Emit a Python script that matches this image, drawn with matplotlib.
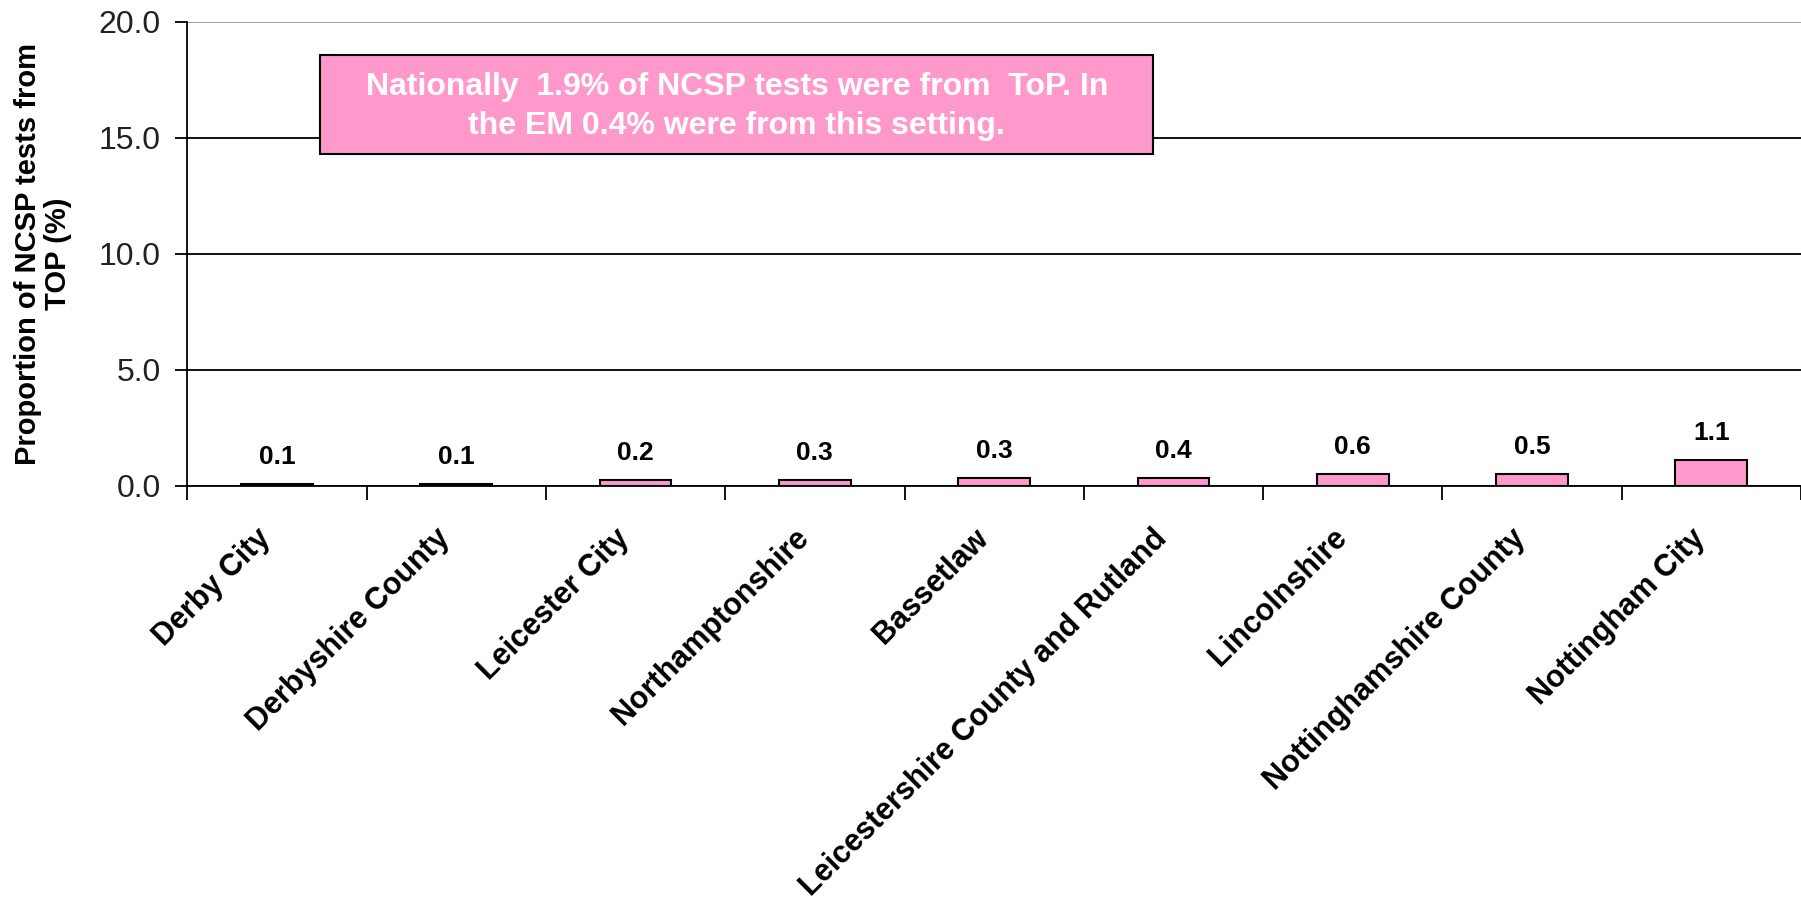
import numpy as np
import matplotlib.pyplot as plt
from matplotlib.patches import Rectangle

# Data
areas = ['Derby City', 'Derbyshire County', 'Leicester City', 'Northamptonshire',
         'Bassetlaw', 'Leicestershire County and Rutland', 'Lincolnshire',
         'Nottinghamshire County', 'Nottingham City']
pct_top = [0.08, 0.08, 0.26, 0.26, 0.35, 0.35, 0.52, 0.52, 1.12]
value_labels = ['0.1', '0.1', '0.2', '0.3', '0.3', '0.4', '0.6', '0.5', '1.1']
note = 'Nationally  1.9% of NCSP tests were from  ToP. In\nthe EM 0.4% were from this setting.'

plt.rcParams['font.family'] = ['Liberation Sans', 'DejaVu Sans']

fig = plt.figure(figsize=(18.01, 9.10), dpi=100)
ax = fig.add_axes([0.104, 0.466, 0.896, 0.510])

x = np.arange(len(areas))
ax.bar(x, pct_top, width=0.4, color='#FF99CC', edgecolor='black', linewidth=1.5, zorder=3)

for xi, h, lab in zip(x, pct_top, value_labels):
    ax.annotate(lab, (xi, h), xytext=(0, 11), textcoords='offset points',
                ha='center', va='bottom', fontsize=19, fontweight='bold')

ax.set_xlim(-0.5, len(areas) - 0.5)
ax.set_ylim(0, 20)
ax.set_yticks(np.arange(0, 20.1, 5))
ax.set_yticklabels([f'{v:.1f}' for v in np.arange(0, 20.1, 5)], fontsize=23, color='#222222')
ax.yaxis.grid(True, color='black', linewidth=1.3, zorder=0)
ax.get_ygridlines()[-1].set_color('#999999')

ax.set_xticks(x)
ax.set_xticklabels(areas, rotation=45, ha='right', va='bottom', rotation_mode='anchor',
                   fontsize=22, fontweight='bold')
ax.tick_params(axis='x', length=0, pad=42)
ax.set_xticks(np.arange(-0.5, len(areas)), minor=True)
ax.tick_params(axis='x', which='minor', length=10, width=1.3, direction='out')
ax.tick_params(axis='y', length=9, width=1.3, direction='out', pad=10)

for s in ['top', 'right']:
    ax.spines[s].set_visible(False)
for s in ['left', 'bottom']:
    ax.spines[s].set_linewidth(1.3)

ax.set_ylabel('Proportion of NCSP tests from\nTOP (%)', fontsize=21, fontweight='bold',
              linespacing=1.1)
ax.yaxis.set_label_coords(-0.0713, 0.5)

# note box
bx, by, bw, bh = 0.0825, 0.716, 0.516, 0.213
box = Rectangle((bx, by), bw, bh, transform=ax.transAxes,
                facecolor='#FF99CC', edgecolor='black', linewidth=1.5, zorder=4)
ax.add_patch(box)
ax.text(bx + bw / 2, by + bh / 2 - 0.005, note, transform=ax.transAxes, ha='center',
        va='center', fontsize=23, fontweight='bold', color='white', zorder=5,
        linespacing=1.42)

fig.savefig('out.png', dpi=100)
